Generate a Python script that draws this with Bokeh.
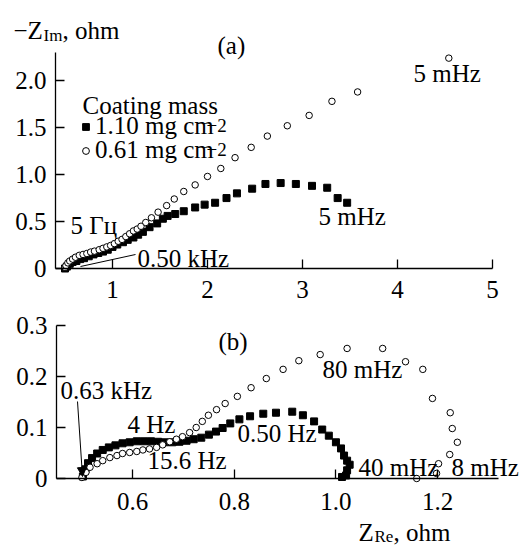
from bokeh.plotting import figure
from bokeh.layouts import column
from bokeh.models import (Range1d, FixedTicker, Label, Legend, LegendItem,
                          Arrow, NormalHead, CustomJSTickFormatter)
from bokeh.embed import file_html
from bokeh.resources import INLINE

# ---------------- data ----------------
# Panel (a): 1.10 mg cm^-2 (filled squares)
a_sq_x = [0.50, 0.52, 0.55, 0.58, 0.62, 0.66, 0.70, 0.75, 0.80, 0.85, 0.90, 0.95,
          1.00, 1.05, 1.11, 1.16, 1.22, 1.27, 1.32, 1.39, 1.47, 1.53, 1.58, 1.66,
          1.75, 1.87, 1.97, 2.08, 2.20, 2.31, 2.47, 2.61, 2.77, 2.93, 3.10, 3.26,
          3.37, 3.47]
a_sq_y = [0.00, 0.02, 0.05, 0.07, 0.08, 0.10, 0.11, 0.13, 0.15, 0.165, 0.18, 0.20,
          0.23, 0.255, 0.28, 0.305, 0.33, 0.36, 0.39, 0.44, 0.48, 0.53, 0.56, 0.58,
          0.61, 0.65, 0.68, 0.70, 0.75, 0.80, 0.85, 0.90, 0.91, 0.90, 0.88, 0.86,
          0.75, 0.70]
# Panel (a): 0.61 mg cm^-2 (open circles)
a_ci_x = [0.50, 0.51, 0.53, 0.55, 0.58, 0.61, 0.65, 0.69, 0.73, 0.77, 0.81, 0.86,
          0.90, 0.94, 0.98, 1.02, 1.06, 1.10, 1.14, 1.18, 1.22, 1.26, 1.30, 1.35,
          1.41, 1.48, 1.57, 1.65, 1.75, 1.87, 2.00, 2.14, 2.29, 2.46, 2.63, 2.84,
          3.07, 3.31, 3.58, 4.54]
a_ci_y = [0.01, 0.03, 0.06, 0.08, 0.10, 0.12, 0.14, 0.15, 0.16, 0.175, 0.185, 0.20,
          0.215, 0.23, 0.245, 0.265, 0.29, 0.31, 0.34, 0.37, 0.40, 0.42, 0.45, 0.49,
          0.54, 0.60, 0.67, 0.74, 0.82, 0.89, 0.98, 1.065, 1.18, 1.29, 1.41, 1.52,
          1.63, 1.78, 1.88, 2.24]

# Panel (b): 1.10 mg cm^-2 (filled squares)
b_sq_x = [0.502, 0.507, 0.512, 0.520, 0.530, 0.541, 0.553, 0.566, 0.580, 0.594,
          0.608, 0.622, 0.636, 0.650, 0.664, 0.678, 0.692, 0.706, 0.720, 0.735,
          0.750, 0.764, 0.777, 0.792, 0.810, 0.831, 0.857, 0.882, 0.914, 0.935,
          0.957, 0.973, 0.986, 1.000, 1.010, 1.016, 1.022, 1.027, 1.022, 1.020,
          1.012]
b_sq_y = [0.004, 0.018, 0.030, 0.040, 0.049, 0.056, 0.061, 0.065, 0.069, 0.071,
          0.073, 0.073, 0.073, 0.072, 0.071, 0.071, 0.072, 0.074, 0.077, 0.080,
          0.086, 0.092, 0.099, 0.108, 0.116, 0.122, 0.127, 0.129, 0.131, 0.124,
          0.112, 0.096, 0.084, 0.071, 0.059, 0.045, 0.035, 0.027, 0.016, 0.006,
          0.003]
# Panel (b): 0.61 mg cm^-2 (open circles)
b_ci_x = [0.500, 0.508, 0.516, 0.530, 0.541, 0.555, 0.569, 0.580, 0.594, 0.608,
          0.620, 0.633, 0.647, 0.659, 0.673, 0.686, 0.698, 0.712, 0.725, 0.737,
          0.749, 0.765, 0.782, 0.806, 0.833, 0.863, 0.896, 0.927, 0.969, 1.022,
          1.092, 1.137, 1.171, 1.190, 1.225, 1.229, 1.239, 1.224, 1.202, 1.198,
          1.159]
b_ci_y = [0.002, 0.012, 0.022, 0.029, 0.035, 0.041, 0.045, 0.049, 0.051, 0.053,
          0.056, 0.058, 0.061, 0.066, 0.072, 0.077, 0.082, 0.090, 0.100, 0.112,
          0.124, 0.135, 0.147, 0.161, 0.178, 0.196, 0.214, 0.231, 0.243, 0.255,
          0.255, 0.229, 0.214, 0.157, 0.129, 0.098, 0.071, 0.047, 0.029, 0.010,
          0.000]

a_xticks = [1, 2, 3, 4, 5]
a_xtick_labels = ["1", "2", "3", "4", "5"]
a_yticks = [0, 0.5, 1.0, 1.5, 2.0]
a_ytick_labels = ["0", "0.5", "1.0", "1.5", "2.0"]
b_xticks = [0.6, 0.8, 1.0, 1.2]
b_xtick_labels = ["0.6", "0.8", "1.0", "1.2"]
b_yticks = [0, 0.1, 0.2, 0.3]
b_ytick_labels = ["0", "0.1", "0.2", "0.3"]

series_labels = ["1.10 mg cm", "0.61 mg cm"]
unit_power = "\u22122"
legend_title = "Coating mass"

FONT = "Liberation Serif"
FS = "25px"
SUB = "17px"
BASE_FIX = 7   # renderer draws alphabetic baseline ~7px lower than requested

# ------------- page geometry (page px -> data) -------------
W = 520
HA, HB = 306, 240
A_L, A_R, A_T, A_B = 55, 492, 52, 268          # axis box of panel (a), page px
A_X0, A_X1, A_Y0, A_Y1 = 0.4, 5.0, 0.0, 2.3
B_L, B_R, B_T, B_B = 56, 498, 325, 478         # axis box of panel (b), page px
B_X0, B_X1, B_Y0, B_Y1 = 0.45, 1.32, 0.0, 0.3


def a_pt(px, py):
    return (A_X0 + (px - A_L) * (A_X1 - A_X0) / (A_R - A_L),
            A_Y0 + (A_B - py) * (A_Y1 - A_Y0) / (A_B - A_T))


def b_pt(px, py):
    return (B_X0 + (px - B_L) * (B_X1 - B_X0) / (B_R - B_L),
            B_Y0 + (B_B - py) * (B_Y1 - B_Y0) / (B_B - B_T))


def make_fig(h, pt, top, xb, yb):
    x0 = pt(0, 0)[0]
    x1 = pt(W, 0)[0]
    y1 = pt(0, top)[1]
    y0 = pt(0, top + h)[1]
    p = figure(width=W, height=h, output_backend="svg", toolbar_location=None,
               x_range=Range1d(x0, x1), y_range=Range1d(y0, y1),
               min_border_left=0, min_border_right=0, min_border_top=0,
               min_border_bottom=0)
    p.xgrid.visible = False
    p.ygrid.visible = False
    p.outline_line_color = None
    p.background_fill_color = "white"
    p.xaxis[0].fixed_location = yb[0]
    p.yaxis[0].fixed_location = xb[0]
    p.xaxis[0].bounds = xb
    p.yaxis[0].bounds = yb
    return p


def style(p, xt, xl, yt, yl, xstand):
    for ax, t, l in ((p.xaxis[0], xt, xl), (p.yaxis[0], yt, yl)):
        ax.ticker = FixedTicker(ticks=t)
        ax.formatter = CustomJSTickFormatter(
            args=dict(t=t, l=l),
            code="const i = t.findIndex(v => Math.abs(v - tick) < 1e-9);"
                 "return i >= 0 ? l[i] : '';")
        ax.minor_tick_line_color = None
        ax.major_tick_in = 9
        ax.major_tick_out = 0
        ax.axis_line_width = 1.3
        ax.major_tick_line_width = 1.3
        ax.axis_line_color = "black"
        ax.major_tick_line_color = "black"
        ax.major_label_text_font = FONT
        ax.major_label_text_font_size = FS
        ax.major_label_text_color = "black"
    p.xaxis[0].major_label_standoff = xstand
    p.yaxis[0].major_label_standoff = 9


def lab(p, pt, px, py, text, size=FS):
    x, y = pt(px, py - BASE_FIX)
    p.add_layout(Label(x=x, y=y, text=text, text_font=FONT,
                       text_font_size=size, text_color="black",
                       text_align="left", text_baseline="alphabetic"))


def legend_row(p, label, renderer, vy):
    lg = Legend(items=[LegendItem(label=label, renderers=[renderer])],
                location=(77, vy),
                background_fill_alpha=0, border_line_color=None,
                padding=0, margin=0, spacing=0,
                glyph_width=17, glyph_height=17, label_standoff=1,
                label_text_font=FONT, label_text_font_size=FS,
                label_text_color="black")
    p.add_layout(lg)


# ---------------- panel (a) ----------------
pa = make_fig(HA, a_pt, 0, (A_X0, A_X1), (A_Y0, A_Y1))
style(pa, a_xticks, a_xtick_labels, a_yticks, a_ytick_labels, 12)

ra_sq = pa.scatter(a_sq_x, a_sq_y, marker="square", size=7, fill_color="black",
                   line_color="black")
ra_ci = pa.scatter(a_ci_x, a_ci_y, marker="circle", size=6.5, fill_color="white",
                   line_color="black", line_width=1)

legend_row(pa, series_labels[0], ra_sq, 166)
legend_row(pa, series_labels[1], ra_ci, 142)

lab(pa, a_pt, 82, 112, legend_title)
lab(pa, a_pt, 206, 132, unit_power, "19px")
lab(pa, a_pt, 206, 156, unit_power, "19px")

lab(pa, a_pt, 13, 37, "\u2212Z")
lab(pa, a_pt, 43, 42, "Im", SUB)
lab(pa, a_pt, 62, 37, ", ohm")
lab(pa, a_pt, 217, 52, "(a)")
lab(pa, a_pt, 70, 232, "5 \u0413\u0446")
lab(pa, a_pt, 137, 265, "0.50 kHz")
lab(pa, a_pt, 413, 80, "5 mHz")
lab(pa, a_pt, 318, 223, "5 mHz")
s0 = a_pt(80, 266)
s1 = a_pt(135, 254)
pa.add_layout(Arrow(end=None, x_start=s0[0], y_start=s0[1], x_end=s1[0],
                    y_end=s1[1], line_color="black", line_width=1))

# ---------------- panel (b) ----------------
pb = make_fig(HB, b_pt, HA, (B_X0, B_X1), (B_Y0, B_Y1))
style(pb, b_xticks, b_xtick_labels, b_yticks, b_ytick_labels, 14)

pb.scatter(b_sq_x, b_sq_y, marker="square", size=7, fill_color="black",
           line_color="black")
pb.scatter(b_ci_x, b_ci_y, marker="circle", size=6.5, fill_color="white",
           line_color="black", line_width=1)

lab(pb, b_pt, 218, 348, "(b)")
lab(pb, b_pt, 60, 397, "0.63 kHz")
lab(pb, b_pt, 127, 431, "4 Hz")
lab(pb, b_pt, 147, 467, "15.6 Hz")
lab(pb, b_pt, 237, 440, "0.50 Hz")
lab(pb, b_pt, 322, 376, "80 mHz")
lab(pb, b_pt, 358, 474, "40 mHz")
lab(pb, b_pt, 451, 474, "8 mHz")
lab(pb, b_pt, 358, 539, "Z")
lab(pb, b_pt, 374, 543, "Re", SUB)
lab(pb, b_pt, 393, 539, ", ohm")
q0 = b_pt(77, 401)
q1 = b_pt(82, 476)
pb.add_layout(Arrow(end=NormalHead(size=9, fill_color="black", line_color="black"),
                    x_start=q0[0], y_start=q0[1], x_end=q1[0], y_end=q1[1],
                    line_color="black", line_width=1))

layout = column(pa, pb)
open("out.html", "w").write(file_html(layout, INLINE))
